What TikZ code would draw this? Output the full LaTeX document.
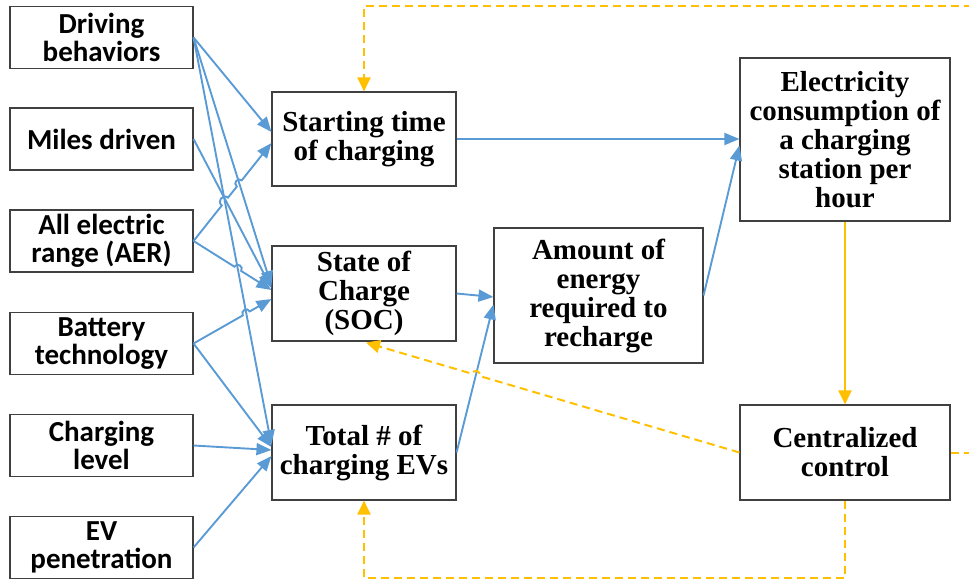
\documentclass[tikz,border=0pt]{standalone}
\usepackage{fontspec}
\setmainfont{Liberation Serif}
\newfontfamily\carl{Carlito}
\usetikzlibrary{arrows.meta,calc}
\definecolor{eblue}{HTML}{5B9BD5}
\definecolor{eorange}{HTML}{FFC000}
\begin{document}
\begin{tikzpicture}[x=1pt,y=-1pt,
  box/.style={draw=black!75, line width=1.1pt, align=center, inner sep=0pt},
  lbox/.style={box, minimum width=183pt, minimum height=62pt, font=\carl\bfseries\fontsize{29}{28}\selectfont},
  rbox/.style={box, font=\bfseries\fontsize{29}{29}\selectfont},
  blu/.style={draw=eblue, line width=1.9pt, -{Triangle[length=15pt,width=12pt]}},
  org/.style={draw=eorange, line width=2pt},
  orgd/.style={org, dash pattern=on 8pt off 5pt},
  otip/.style={-{Triangle[length=14pt,width=13pt]}},
  hopl/.style={bend left=90, looseness=1.7},
  hopr/.style={bend right=90, looseness=1.7}]
\useasboundingbox (0,0) rectangle (969,583);

% left column
\node[lbox] (drv) at (101.5,37.5) {Driving\\behaviors};
\node[lbox] (mil) at (101.5,139) {Miles driven};
\node[lbox] (aer) at (101.5,241) {All electric\\range (AER)};
\node[lbox] (bat) at (101.5,343.5) {Battery\\technology};
\node[lbox] (chg) at (101.5,445.5) {Charging\\level};
\node[lbox] (evp) at (101.5,547.5) {EV\\penetration};

% middle column
\node[rbox, minimum width=184pt, minimum height=94pt] (start) at (364,139) {Starting time\\of charging};
\node[rbox, minimum width=184pt, minimum height=95pt] (soc) at (364,293.5) {State of\\Charge\\(SOC)};
\node[rbox, minimum width=184pt, minimum height=95pt] (tot) at (364,452.5) {Total \# of\\charging EVs};

% right part
\node[rbox, minimum width=209pt, minimum height=135pt] (amt) at (598.5,295.5) {Amount of\\energy\\required to\\recharge};
\node[rbox, minimum width=210pt, minimum height=163pt] (elec) at (845,139.5) {Electricity\\consumption of\\a charging\\station per\\hour};
\node[rbox, minimum width=210pt, minimum height=95pt] (cc) at (845,452.5) {Centralized\\control};

% target points
\coordinate (stA) at ($(start.west)+(0,-7)$);
\coordinate (stB) at ($(start.west)+(0,4)$);
\coordinate (socA) at ($(soc.west)+(0,-7.5)$);
\coordinate (socM) at ($(soc.west)+(0,-5.5)$);
\coordinate (socC) at ($(soc.west)+(0,-3.5)$);
\coordinate (socD) at ($(soc.west)+(0,5.5)$);
\coordinate (totA) at ($(tot.west)+(0,-7.5)$);
\coordinate (totB) at ($(tot.west)+(0,-5.5)$);
\coordinate (totC) at ($(tot.west)+(0,-2.5)$);
\coordinate (totD) at ($(tot.west)+(0,3.5)$);
\coordinate (amA) at ($(amt.west)+(0,1.5)$);
\coordinate (amB) at ($(amt.west)+(0,9)$);
\coordinate (elB) at ($(elec.west)+(0,6)$);
\coordinate (socO) at ($(soc.south)+(2,1)$);

% crossings
\coordinate (x2) at (intersection of aer.east--stB and drv.east--socA);
\coordinate (x3) at (intersection of aer.east--stB and drv.east--totA);
\coordinate (x5) at (intersection of aer.east--socC and drv.east--totA);
\coordinate (x6) at (intersection of bat.east--socD and drv.east--totA);
\coordinate (x7) at (intersection of cc.west--socO and tot.east--amB);

% blue connectors (left)
\draw[blu] (drv.east) -- (stA);
\draw[blu] (drv.east) -- (socA);
\draw[blu] (drv.east) -- (totA);
\draw[blu] (mil.east) -- (socM);
\draw[blu] (aer.east) -- ($(x3)!5pt!(aer.east)$) to[hopl] ($(x3)!5pt!(stB)$)
  -- ($(x2)!4pt!(aer.east)$) to[hopl] ($(x2)!4pt!(stB)$) -- (stB);
\draw[blu] (aer.east) -- ($(x5)!4pt!(aer.east)$) to[hopl] ($(x5)!4pt!(socC)$) -- (socC);
\draw[blu] (bat.east) -- ($(x6)!4pt!(bat.east)$) to[hopl] ($(x6)!4pt!(socD)$) -- (socD);
\draw[blu] (bat.east) -- (totB);
\draw[blu] (chg.east) -- (totC);
\draw[blu] (evp.east) -- (totD);

% blue connectors (right)
\draw[blu] (start.east) -- (start.east -| elec.west);
\draw[blu] (soc.east) -- (amA);
\draw[blu] (tot.east) -- (amB);
\draw[blu] (amt.east) -- (elB);

% orange connectors
\draw[org, otip] (elec.south) -- (cc.north);
\draw[orgd, otip] (cc.east) -- (985,452.5) -- (985,6) -- (364,6) -- (start.north);
\draw[orgd, otip] (cc.south) -- (845,578) -- (364,578) -- (tot.south);
\draw[orgd, otip] (cc.west) -- ($(x7)!4pt!(cc.west)$) to[hopr] ($(x7)!4pt!(socO)$) -- (socO);
\end{tikzpicture}
\end{document}
